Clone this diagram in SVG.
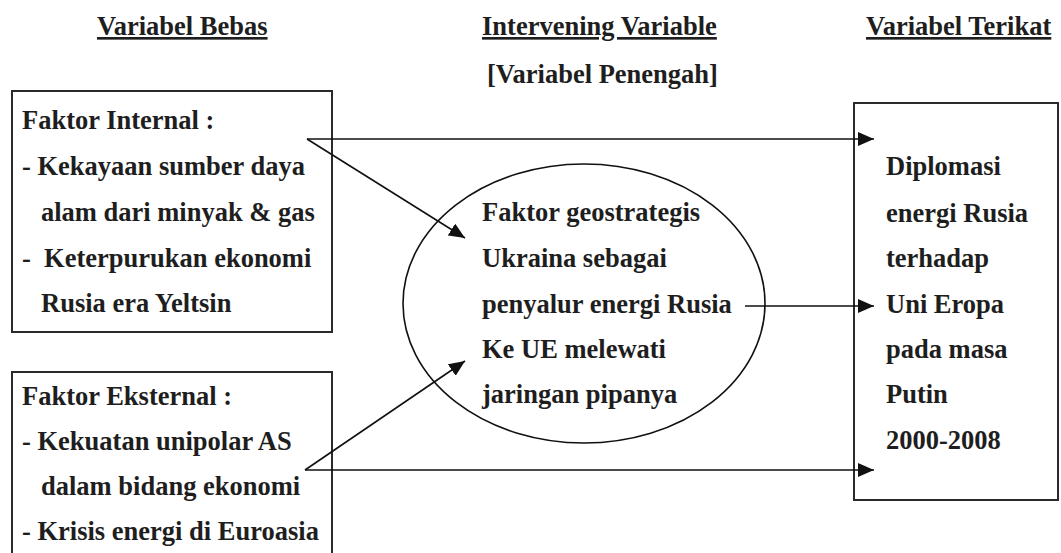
<svg xmlns="http://www.w3.org/2000/svg" width="1061" height="553" viewBox="0 0 1061 553">
<style>
  .t { font-weight: bold; font-size: 26.5px; fill: #1e1e1e; }
  .hdr { text-decoration: underline; }
  .box { fill: none; stroke: #2a2a2a; stroke-width: 2; }
  .conn { fill: none; stroke: #111; stroke-width: 1.6; }
</style>
<defs>
  <marker id="arr" markerUnits="userSpaceOnUse" markerWidth="16" markerHeight="14" refX="16" refY="7" orient="auto">
    <path d="M0,0 L16,7 L0,14 z" fill="#111"/>
  </marker>
</defs>
<rect width="1061" height="553" fill="#ffffff"/>

<g font-family="Liberation Serif, Times New Roman, DejaVu Serif, serif" class="t">
<g id="headers">
  <text class="hdr" x="97" y="35">Variabel Bebas</text>
  <text class="hdr" x="482" y="35">Intervening Variable</text>
  <text x="487" y="83">[Variabel Penengah]</text>
  <text class="hdr" x="866" y="35">Variabel Terikat</text>
</g>

<g id="faktor-internal">
  <rect class="box" x="12" y="91" width="320" height="241"/>
  <text x="22" y="129">Faktor Internal :</text>
  <text x="22" y="175">- Kekayaan sumber daya</text>
  <text x="41" y="221">alam dari minyak &amp; gas</text>
  <text x="22" y="267" xml:space="preserve">-  Keterpurukan ekonomi</text>
  <text x="41" y="312">Rusia era Yeltsin</text>
</g>

<g id="faktor-eksternal">
  <rect class="box" x="12" y="372" width="320" height="200"/>
  <text x="22" y="405">Faktor Eksternal :</text>
  <text x="22" y="450">- Kekuatan unipolar AS</text>
  <text x="41" y="495">dalam bidang ekonomi</text>
  <text x="22" y="540">- Krisis energi di Euroasia</text>
</g>

<g id="intervening">
  <ellipse cx="584" cy="303.5" rx="181" ry="139.5" fill="none" stroke="#111" stroke-width="1.6"/>
  <text x="482" y="221">Faktor geostrategis</text>
  <text x="482" y="267">Ukraina sebagai</text>
  <text x="482" y="313">penyalur energi Rusia</text>
  <text x="482" y="358">Ke UE melewati</text>
  <text x="482" y="403">jaringan pipanya</text>
</g>

<g id="terikat">
  <rect class="box" x="854" y="103" width="204" height="397"/>
  <text x="886" y="175">Diplomasi</text>
  <text x="886" y="222">energi Rusia</text>
  <text x="886" y="267">terhadap</text>
  <text x="886" y="313">Uni Eropa</text>
  <text x="886" y="358">pada masa</text>
  <text x="886" y="403">Putin</text>
  <text x="886" y="449">2000-2008</text>
</g>
</g>

<g id="connectors">
  <line class="conn" x1="307" y1="139" x2="874" y2="139" marker-end="url(#arr)"/>
  <line class="conn" x1="307" y1="139" x2="465" y2="238" marker-end="url(#arr)"/>
  <line class="conn" x1="305" y1="470" x2="465" y2="361" marker-end="url(#arr)"/>
  <line class="conn" x1="305" y1="470" x2="874" y2="470" marker-end="url(#arr)"/>
  <line class="conn" x1="745" y1="306" x2="874" y2="306" marker-end="url(#arr)"/>
</g>
</svg>
